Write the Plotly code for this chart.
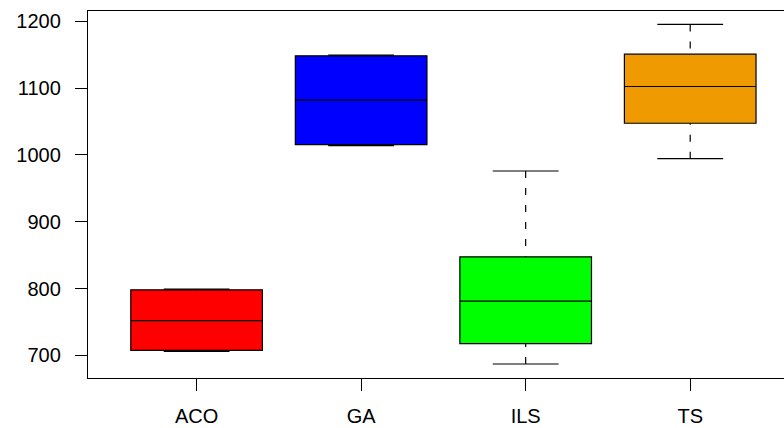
import plotly.graph_objects as go

categories = ["ACO", "GA", "ILS", "TS"]
positions = [1, 2, 3, 4]
lower_whisker = [706, 1014, 687, 994.5]
q1_vals = [707.5, 1015.5, 717.5, 1047.5]
median_vals = [752, 1082, 781, 1102.5]
q3_vals = [798, 1148.5, 847.5, 1151]
upper_whisker = [799, 1149.5, 976, 1195.5]
fill_colors = ["#FF0000", "#0000FF", "#00FF00", "#EE9A00"]

FONT = "Liberation Sans, Arial, sans-serif"
fig = go.Figure()

cap_half = 0.2
for i, pos in enumerate(positions):
    # dashed whiskers (from whisker end to box)
    for a, b in ((upper_whisker[i], q3_vals[i]), (lower_whisker[i], q1_vals[i])):
        fig.add_trace(go.Scatter(x=[pos, pos], y=[a, b], mode="lines",
                                 line=dict(color="black", width=1.2, dash="7px,10px"),
                                 showlegend=False, hoverinfo="skip"))
    # staples
    for v in (upper_whisker[i], lower_whisker[i]):
        fig.add_trace(go.Scatter(x=[pos - cap_half, pos + cap_half], y=[v, v], mode="lines",
                                 line=dict(color="black", width=1.2),
                                 showlegend=False, hoverinfo="skip"))

for i, pos in enumerate(positions):
    fig.add_trace(go.Box(x=[pos], q1=[q1_vals[i]], median=[median_vals[i]], q3=[q3_vals[i]],
                         lowerfence=[q1_vals[i]], upperfence=[q3_vals[i]],
                         width=0.8, whiskerwidth=0, boxpoints=False,
                         fillcolor=fill_colors[i], line=dict(color="black", width=1.2),
                         name=categories[i], showlegend=False))

fig.update_layout(
    width=784, height=428,
    margin=dict(l=88, r=0, t=11, b=50),
    paper_bgcolor="white", plot_bgcolor="white",
    font=dict(family=FONT, size=20, color="black"),
    xaxis=dict(range=[0.34, 4.57], tickvals=positions, ticktext=categories,
               showgrid=False, zeroline=False, showline=True, mirror=True,
               linecolor="black", linewidth=1.3, ticks="outside", ticklen=12,
               tickwidth=1.2, tickcolor="black", ticklabelstandoff=8),
    yaxis=dict(range=[666, 1215.6], tickvals=[700, 800, 900, 1000, 1100, 1200],
               showgrid=False, zeroline=False, showline=True, mirror=False,
               linecolor="black", linewidth=1.3, ticks="outside", ticklen=12,
               tickwidth=1.2, tickcolor="black", ticklabelstandoff=10),
)

fig.write_html("out.html")
